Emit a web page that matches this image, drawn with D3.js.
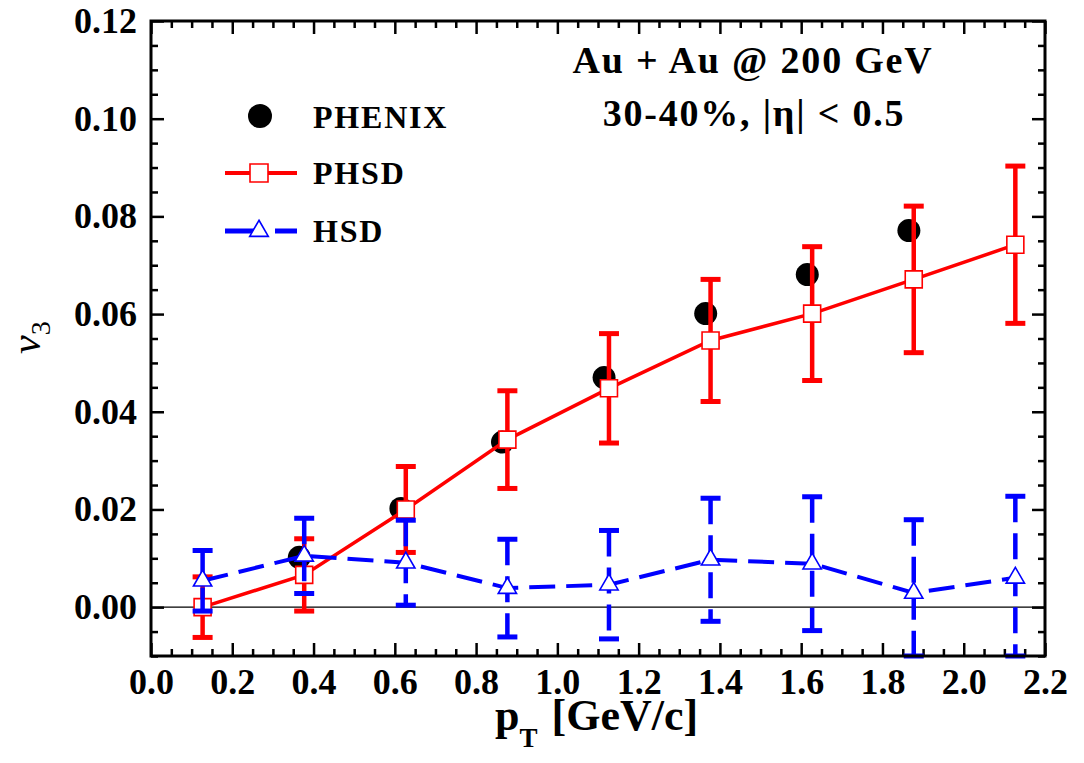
<!DOCTYPE html>
<html>
<head>
<meta charset="utf-8">
<script src="https://cdn.jsdelivr.net/npm/d3@7"></script>
<style>
  body { margin: 0; background: #fff; }
  svg { display: block; }
</style>
</head>
<body>
<svg width="1084" height="763"></svg>
<script>
// pT bins (model points sit a touch right of the data points)
const ptModel = [0.127, 0.377, 0.627, 0.877, 1.127, 1.377, 1.627, 1.877, 2.127];
const ptPhenix = [0.365, 0.615, 0.865, 1.115, 1.365, 1.615, 1.865];

const v3Phenix = [0.0102, 0.0202, 0.0338, 0.0470, 0.0601, 0.0681, 0.0771];
const v3Phsd = [0.0000, 0.0066, 0.0200, 0.0343, 0.0448, 0.0546, 0.0601, 0.0671, 0.0742];
const errPhsd = [0.0062, 0.0074, 0.0088, 0.0100, 0.0112, 0.0125, 0.0137, 0.0150, 0.0161];
const v3Hsd = [0.0054, 0.0105, 0.0091, 0.0039, 0.0046, 0.0097, 0.0089, 0.0029, 0.0060];
const errHsd = [0.0062, 0.0077, 0.0087, 0.0100, 0.0111, 0.0126, 0.0137, 0.0150, 0.0167];

const xTicks = [0, 0.2, 0.4, 0.6, 0.8, 1.0, 1.2, 1.4, 1.6, 1.8, 2.0, 2.2];
const yTicks = [0, 0.02, 0.04, 0.06, 0.08, 0.10, 0.12];
const legendNames = ["PHENIX", "PHSD", "HSD"];

const FONT = "'Liberation Serif', 'Times New Roman', serif";
const RED = "#ff0000", BLUE = "#0000ff";

var svg = d3.select("svg");
var pLeft = 151, pRight = 1045, pTop = 21, pBottom = 656;

var x = d3.scaleLinear().domain([0, 2.2]).range([pLeft, pRight]);
var y = d3.scaleLinear().domain([-0.01, 0.12]).range([pBottom, pTop]);

// axes: major + minor ticks pointing inward on all four sides
var xMinor = d3.range(0, 2.2001, 0.05).filter(v => Math.abs(v / 0.2 - Math.round(v / 0.2)) > 1e-6);
var yMinor = d3.range(-0.01, 0.12001, 0.005).filter(v => Math.abs(v / 0.02 - Math.round(v / 0.02)) > 1e-6);

function styleAxis(g) {
  g.select(".domain").remove();
  g.selectAll(".tick line").attr("stroke", "#000").attr("stroke-width", 2.5);
  g.selectAll("text").attr("font-family", FONT).attr("font-weight", "bold")
    .attr("font-size", 36).attr("fill", "#000");
}

svg.append("g").attr("transform", "translate(0," + pBottom + ")")
  .call(d3.axisBottom(x).tickValues(xTicks).tickSize(-13).tickPadding(12).tickFormat(d3.format(".1f")))
  .call(styleAxis);
svg.append("g").attr("transform", "translate(0," + pBottom + ")")
  .call(d3.axisBottom(x).tickValues(xMinor).tickSize(-7).tickFormat(""))
  .call(styleAxis);
svg.append("g").attr("transform", "translate(0," + pTop + ")")
  .call(d3.axisTop(x).tickValues(xTicks).tickSize(-13).tickFormat(""))
  .call(styleAxis);
svg.append("g").attr("transform", "translate(0," + pTop + ")")
  .call(d3.axisTop(x).tickValues(xMinor).tickSize(-7).tickFormat(""))
  .call(styleAxis);

svg.append("g").attr("transform", "translate(" + pLeft + ",0)")
  .call(d3.axisLeft(y).tickValues(yTicks).tickSize(-13).tickPadding(14).tickFormat(d3.format(".2f")))
  .call(styleAxis);
svg.append("g").attr("transform", "translate(" + pLeft + ",0)")
  .call(d3.axisLeft(y).tickValues(yMinor).tickSize(-7).tickFormat(""))
  .call(styleAxis);
svg.append("g").attr("transform", "translate(" + pRight + ",0)")
  .call(d3.axisRight(y).tickValues(yTicks).tickSize(-13).tickFormat(""))
  .call(styleAxis);
svg.append("g").attr("transform", "translate(" + pRight + ",0)")
  .call(d3.axisRight(y).tickValues(yMinor).tickSize(-7).tickFormat(""))
  .call(styleAxis);

// zero line
svg.append("line")
  .attr("x1", x(0)).attr("x2", x(2.2))
  .attr("y1", y(0)).attr("y2", y(0))
  .attr("stroke", "#000").attr("stroke-width", 1.3);

var plot = svg.append("g");
var ymin = y.domain()[0], ymax = y.domain()[1];

// PHENIX data
plot.selectAll(".phenix")
  .data(ptPhenix.map((p, i) => ({ x: p, v: v3Phenix[i] })))
  .enter().append("circle")
  .attr("cx", d => x(d.x)).attr("cy", d => y(d.v))
  .attr("r", 11.5).attr("fill", "#000");

function errorBars(xs, vs, es, color, dash) {
  var g = plot.append("g")
    .attr("stroke", color).attr("stroke-width", 4.5).attr("fill", "none");
  xs.forEach(function (p, i) {
    var lo = Math.max(vs[i] - es[i], ymin), hi = Math.min(vs[i] + es[i], ymax);
    g.append("line")
      .attr("x1", x(p)).attr("x2", x(p))
      .attr("y1", y(hi)).attr("y2", y(lo))
      .attr("stroke-dasharray", dash || null);
    [lo, hi].forEach(function (v) {
      g.append("line")
        .attr("x1", x(p) - 10).attr("x2", x(p) + 10)
        .attr("y1", y(v)).attr("y2", y(v))
        .attr("stroke-width", 5);
    });
  });
}

var line = d3.line().x(d => x(d.x)).y(d => y(d.v));
var sq = d3.symbol().type(d3.symbolSquare).size(17 * 17);
var tri = d3.symbol().type(d3.symbolTriangle).size(145);

// PHSD
errorBars(ptModel, v3Phsd, errPhsd, RED);
var phsd = ptModel.map((p, i) => ({ x: p, v: v3Phsd[i] }));
plot.append("path").datum(phsd).attr("d", line)
  .attr("fill", "none").attr("stroke", RED).attr("stroke-width", 3.5);
plot.selectAll(".phsd").data(phsd).enter().append("path")
  .attr("d", sq)
  .attr("transform", d => "translate(" + x(d.x) + "," + y(d.v) + ")")
  .attr("fill", "#fff").attr("stroke", RED).attr("stroke-width", 1.6);

// HSD
errorBars(ptModel, v3Hsd, errHsd, BLUE, "26,11");
var hsd = ptModel.map((p, i) => ({ x: p, v: v3Hsd[i] }));
plot.append("path").datum(hsd).attr("d", line)
  .attr("fill", "none").attr("stroke", BLUE).attr("stroke-width", 4)
  .attr("stroke-dasharray", "26,11");
plot.selectAll(".hsd").data(hsd).enter().append("path")
  .attr("d", tri)
  .attr("transform", d => "translate(" + x(d.x) + "," + y(d.v) + ")")
  .attr("fill", "#fff").attr("stroke", BLUE).attr("stroke-width", 1.6);

// frame
svg.append("rect")
  .attr("x", pLeft).attr("y", pTop)
  .attr("width", pRight - pLeft).attr("height", pBottom - pTop)
  .attr("fill", "none").attr("stroke", "#000").attr("stroke-width", 3);

// legend
var lg = svg.append("g");
lg.append("circle").attr("cx", 260).attr("cy", 116).attr("r", 12).attr("fill", "#000");
lg.append("line").attr("x1", 225).attr("x2", 297).attr("y1", 173).attr("y2", 173)
  .attr("stroke", RED).attr("stroke-width", 4);
lg.append("path").attr("d", d3.symbol().type(d3.symbolSquare).size(18 * 18))
  .attr("transform", "translate(259,173)")
  .attr("fill", "#fff").attr("stroke", RED).attr("stroke-width", 1.6);
lg.append("line").attr("x1", 225).attr("x2", 297).attr("y1", 231).attr("y2", 231)
  .attr("stroke", BLUE).attr("stroke-width", 5).attr("stroke-dasharray", "34,16");
lg.append("path").attr("d", d3.symbol().type(d3.symbolTriangle).size(150))
  .attr("transform", "translate(259,231)")
  .attr("fill", "#fff").attr("stroke", BLUE).attr("stroke-width", 1.6);
lg.selectAll("text").data(legendNames).enter().append("text")
  .attr("x", 313).attr("y", (d, i) => [128, 184, 242][i])
  .attr("font-family", FONT).attr("font-weight", "bold").attr("font-size", 32)
  .attr("letter-spacing", 1.8)
  .text(d => d);

// annotation
var ann = svg.append("g").attr("font-family", FONT).attr("font-weight", "bold")
  .attr("font-size", 38).attr("letter-spacing", 1.8).attr("text-anchor", "middle");
ann.append("text").attr("x", 753).attr("y", 73).text("Au + Au @ 200 GeV");
ann.append("text").attr("x", 754).attr("y", 126).text("30-40%, |η| < 0.5");

// axis titles
var xt = svg.append("text").attr("x", 495).attr("y", 730)
  .attr("font-family", FONT).attr("font-weight", "bold").attr("font-size", 44);
xt.append("tspan").text("p");
xt.append("tspan").attr("dy", 17).attr("font-size", 27).text("T");
xt.append("tspan").attr("dy", -17).attr("dx", 14).text("[GeV/c]");

var yt = svg.append("text").attr("transform", "translate(40,354) rotate(-90)")
  .attr("font-family", FONT).attr("font-style", "italic").attr("font-size", 42);
yt.append("tspan").text("v");
yt.append("tspan").attr("dy", 10).attr("font-size", 28).attr("font-style", "normal").text("3");
</script>
</body>
</html>
